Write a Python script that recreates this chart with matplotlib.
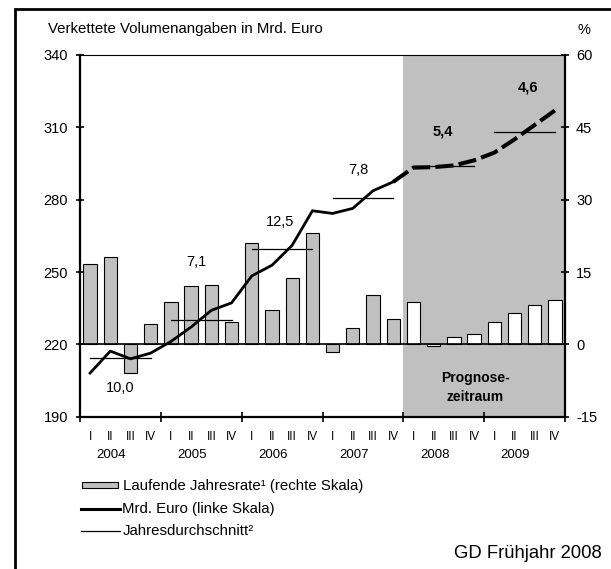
import numpy as np
import matplotlib as mpl
mpl.use('Agg')
from matplotlib import pyplot as plt
from matplotlib.patches import Rectangle
from matplotlib.lines import Line2D

plt.rcParams['font.family'] = ['Liberation Sans', 'DejaVu Sans']
plt.rcParams['axes.unicode_minus'] = False

years = ['2004', '2005', '2006', '2007', '2008', '2009']
quarters = ['I', 'II', 'III', 'IV']

# laufende Jahresrate in % (rechte Skala)
rate = [16.6, 18.1, -5.9, 4.2,
        8.8, 12.0, 12.3, 4.7,
        21.1, 7.1, 13.7, 23.1,
        -1.5, 3.3, 10.2, 5.3,
        8.7, -0.3, 1.5, 2.1,
        4.7, 6.5, 8.2, 9.1]

# Mrd. Euro (linke Skala)
level = [208.1, 217.2, 214.0, 216.4,
         221.2, 227.2, 234.1, 237.2,
         248.4, 252.8, 261.1, 275.4,
         274.3, 276.4, 283.7, 287.4,
         293.3, 293.5, 294.2, 296.3,
         299.5, 305.0, 311.0, 317.0]

# Jahresdurchschnitt und Veraenderung
avg = [214.3, 230.0, 259.6, 280.5, 294.1, 308.0]
growth = ['10,0', '7,1', '12,5', '7,8', '5,4', '4,6']

FORECAST_START = 16  # erstes Prognosequartal (2008 I)
GRAY = '#c0c0c0'

fig = plt.figure(figsize=(6.11, 5.69), dpi=100)
ax = fig.add_axes([80 / 611, 1 - 416.7 / 569, 485 / 611, (416.7 - 55) / 569])
ax2 = ax.twinx()

x = np.arange(len(rate)) + 0.5

# Prognosezeitraum
ax.axvspan(FORECAST_START, len(rate), color=GRAY, lw=0, zorder=0)

# Balken
colors = [GRAY] * FORECAST_START + ['white'] * (len(rate) - FORECAST_START)
ax.bar(x, rate, width=0.66, color=colors, edgecolor='black', linewidth=0.8, zorder=2)
ax.axhline(0, color='black', lw=1.2, zorder=3)

ax.set_xlim(0, len(rate))
ax.set_ylim(-15, 60)
ax.set_yticks([-15, 0, 15, 30, 45, 60])
ax.yaxis.tick_right()
ax.tick_params(axis='y', direction='inout', length=6, width=1.2, labelsize=10.5, pad=4.9)

ax.set_xticks(np.arange(0, len(rate) + 1, 4))
ax.set_xticklabels([])
ax.tick_params(axis='x', direction='inout', length=6.5, width=1.2)

for s in ['left', 'right', 'bottom']:
    ax.spines[s].set_linewidth(1.6)
ax.spines['top'].set_linewidth(0.8)
for s in ax2.spines.values():
    s.set_visible(False)

# Linie Mrd. Euro
ax2.plot(x[:FORECAST_START], level[:FORECAST_START], color='black', lw=2.0,
         solid_joinstyle='round', zorder=4)
ax2.plot(x[FORECAST_START - 1:], level[FORECAST_START - 1:], color='black', lw=2.9,
         dashes=(4.5, 1.3), zorder=4)

# Jahresdurchschnitte
for i, a in enumerate(avg):
    ax2.plot([x[4 * i], x[4 * i + 3]], [a, a], color='black', lw=0.9, zorder=3)

label_pos = [(1.98, 202.1), (5.78, 254.2), (9.9, 270.8), (13.78, 292.3),
             (17.95, 308.2), (22.16, 326.6)]
for i, (g, (px, py)) in enumerate(zip(growth, label_pos)):
    bold = i >= 4
    ax2.text(px, py, g, ha='center', va='center', fontsize=10.5,
             fontweight='bold' if bold else 'normal', zorder=5)

ax2.set_ylim(190, 340)
ax2.set_yticks([190, 220, 250, 280, 310, 340])
ax2.yaxis.tick_left()
ax2.tick_params(axis='y', direction='inout', length=6, width=1.2, labelsize=10.5, pad=5.6)

ax2.text(19.55, 202, 'Prognose-\nzeitraum', ha='center', va='center', fontsize=10,
         fontweight='bold', linespacing=1.45, zorder=5)

# Quartals- und Jahresbeschriftung
tr = ax.get_xaxis_transform()
for i in range(len(rate)):
    ax.text(x[i], -0.057, quarters[i % 4], transform=tr, ha='center', va='center',
            fontsize=8.5)
for i, y in enumerate(years):
    ax.text(4 * i + 1.55, -0.106, y, transform=tr, ha='center', va='center',
            fontsize=9.5)

# Titel und Einheiten
fig.text(48 / 611, 1 - 29 / 569, 'Verkettete Volumenangaben in Mrd. Euro',
         ha='left', va='center', fontsize=10.8)
fig.text(584 / 611, 1 - 30 / 569, '%', ha='center', va='center', fontsize=10.5)

# Legende
W, H = 611.0, 569.0
fig.patches.append(Rectangle((81.7 / W, 1 - 488.3 / H), 36.6 / W, 6 / H,
                             facecolor=GRAY, edgecolor='black', lw=0.8,
                             transform=fig.transFigure))
fig.text(123.3 / W, 1 - 486 / H, 'Laufende Jahresrate\u00b9 (rechte Skala)',
         ha='left', va='center', fontsize=10.8)
fig.lines.append(Line2D([80.7 / W, 120 / W], [1 - 509 / H, 1 - 509 / H], color='black',
                        lw=2.2, transform=fig.transFigure))
fig.text(121.5 / W, 1 - 509 / H, 'Mrd. Euro (linke Skala)', ha='left', va='center',
         fontsize=10.8)
fig.lines.append(Line2D([80.7 / W, 120 / W], [1 - 531 / H, 1 - 531 / H], color='black',
                        lw=0.9, transform=fig.transFigure))
fig.text(123 / W, 1 - 531 / H, 'Jahresdurchschnitt\u00b2', ha='left', va='center',
         fontsize=10.8)

fig.text(602 / W, 1 - 553.3 / H, 'GD Fr\u00fchjahr 2008', ha='right', va='center',
         fontsize=13.3)

# Rahmen
fig.patches.append(Rectangle((14.5 / W, -0.05), 1.0, 1 - 9 / H + 0.05, fill=False,
                             edgecolor='black', lw=2.0, transform=fig.transFigure))

fig.savefig('out.png')
